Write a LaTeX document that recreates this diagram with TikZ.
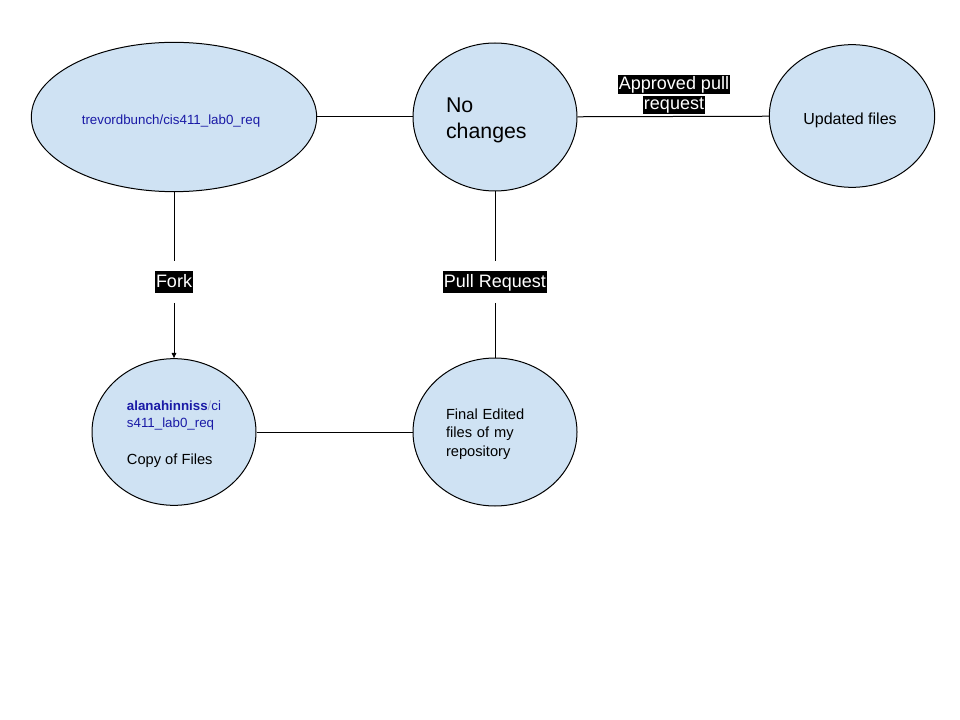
\documentclass[tikz,border=0pt]{standalone}
\usepackage{fontspec}
\setmainfont{Liberation Sans}
\usetikzlibrary{shapes.geometric,arrows.meta}
\definecolor{bubblefill}{RGB}{207,226,243}
\definecolor{repoblue}{RGB}{26,26,166}
\definecolor{slashgrey}{RGB}{160,168,205}
\setlength{\fboxsep}{1pt}
\tikzset{every picture/.style={line width=0.75pt}}
\tikzset{
  bubble/.style={ellipse, draw, fill=bubblefill, inner sep=0pt},
  tag/.style={fill=black, text=white, inner sep=1pt, outer sep=7.5pt,
    text height=11pt, text depth=3.5pt, font=\fontsize{13.5}{15}\selectfont},
}

\begin{document}
\begin{tikzpicture}[x=0.75pt,y=0.75pt,yscale=-1,xscale=1]
%set diagram left start at 0, and has height of 720
\useasboundingbox (0,0) rectangle (960,720);

%Shape: Ellipse [id:trev]
\node [bubble, minimum width=214pt, minimum height=112pt] (trev) at (174,117) {};
%Shape: Ellipse [id:nochg]
\node [bubble, minimum width=123pt, minimum height=111pt] (nochg) at (495,117) {};
%Shape: Ellipse [id:upd]
\node [bubble, minimum width=124pt, minimum height=107pt] (upd) at (852,116) {};
%Shape: Ellipse [id:copy]
\node [bubble, minimum width=123pt, minimum height=110pt] (copy) at (174,432) {};
%Shape: Ellipse [id:final]
\node [bubble, minimum width=123pt, minimum height=111pt] (final) at (495,432) {};

% Text Node
\node [text=repoblue, font=\fontsize{10}{12}\selectfont] (trevtext) at (171,121) {trevordbunch/cis411\_lab0\_req};
% Text Node
\node [text width=73.5pt, align=left, font=\fontsize{16}{19.5}\selectfont] (nochgtext) at (495,120.5) {No\\changes};
% Text Node
\node [font=\fontsize{12}{14}\selectfont] (updtext) at (850,120) {Updated files};
% Text Node
\node [align=left, font=\fontsize{10}{12.75}\selectfont] (copytext) at (174,434)
  {\textcolor{repoblue}{\textbf{alanahinniss}\textcolor{slashgrey}{/}ci}\\
   \textcolor{repoblue}{s411\_lab0\_req}\\[15pt]
   {\fontsize{11}{13}\selectfont Copy of Files}};
% Text Node
\node [text width=73.5pt, align=left, font=\fontsize{11}{13.75}\selectfont] (finaltext) at (495,434) {Final Edited\\files of my\\repository};

% Text Node
\node [tag] (fork) at (174,282) {Fork};
% Text Node
\node [tag] (pullreq) at (495,282) {Pull Request};
% Text Node
\node [text=white, inner sep=0pt, align=center, font=\fontsize{13.5}{15}\selectfont] (approved) at (674,94.5)
  {\colorbox{black}{Approved pull}\\\colorbox{black}{request}};

%Straight Lines
\draw (trev) -- (nochg);
%Straight Lines
\draw (nochg) -- (upd);
%Straight Lines
\draw (copy) -- (final);
%Straight Lines
\draw (trev) -- (fork);
\draw [-{Triangle[length=4pt,width=3.5pt]}] (fork) -- (copy);
%Straight Lines
\draw (nochg) -- (pullreq);
\draw (pullreq) -- (final);

\end{tikzpicture}
\end{document}
